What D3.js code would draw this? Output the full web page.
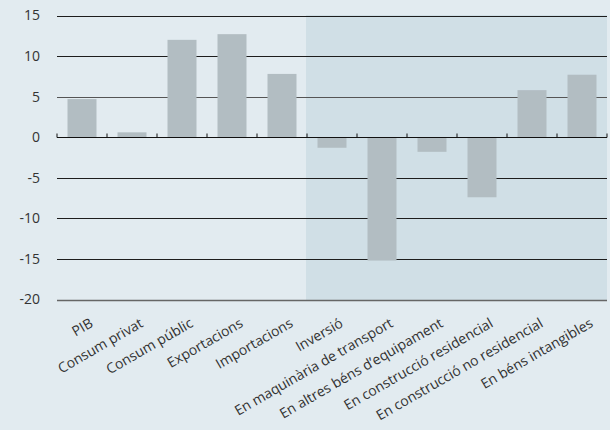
<!DOCTYPE html>
<html>
<head>
<meta charset="utf-8">
<script src="https://cdn.jsdelivr.net/npm/d3@7"></script>
<style>
  body { margin: 0; background: #e2ebf0; }
  svg { display: block; font-family: "Open Sans", sans-serif; }
</style>
</head>
<body>
<div id="chart"></div>
<script>
// Dades
const categories = ["PIB", "Consum privat", "Consum públic", "Exportacions", "Importacions",
  "Inversió", "En maquinària de transport", "En altres béns d’equipament",
  "En construcció residencial", "En construcció no residencial", "En béns intangibles"];
const values = [4.7, 0.6, 12.0, 12.7, 7.8, -1.3, -15.2, -1.8, -7.4, 5.8, 7.7];
const yTicks = [15, 10, 5, 0, -5, -10, -15, -20];
const shadedFrom = "Inversió";

const width = 610, height = 430;

const svg = d3.select("#chart").append("svg")
  .attr("width", width)
  .attr("height", height);

svg.append("rect")
  .attr("width", width).attr("height", height)
  .attr("fill", "#e2ebf0");

const x = d3.scaleBand()
  .domain(categories)
  .range([57, 607])
  .paddingInner(0.42)
  .paddingOuter(0.21);

const y = d3.scaleLinear()
  .domain([-20, 15])
  .range([299.5, 15.5]);

const step = x.step();
const x0 = 57;

// zona ombrejada
const shadeX = x(shadedFrom) - step * 0.21 - 1;
svg.append("rect")
  .attr("x", shadeX)
  .attr("y", y(15) - 0.5)
  .attr("width", 607 - shadeX)
  .attr("height", y(-20) - y(15) + 2)
  .attr("fill", "#d0dfe6");

// línies de graella
svg.append("g")
  .selectAll("line")
  .data(yTicks.filter(d => d !== 0))
  .enter().append("line")
  .attr("x1", 57).attr("x2", 607)
  .attr("y1", d => Math.round(y(d)) + 0.5)
  .attr("y2", d => Math.round(y(d)) + 0.5)
  .attr("stroke", d => d === -20 ? "#666" : (d === 5 ? "#555" : "#1d1d1d"))
  .attr("stroke-width", d => d === -20 ? 1.6 : 1);

// etiquetes eix y
svg.append("g")
  .selectAll("text")
  .data(yTicks)
  .enter().append("text")
  .attr("x", 40)
  .attr("y", d => y(d))
  .attr("dy", "0.35em")
  .attr("text-anchor", "end")
  .style("font-size", "14px")
  .style("fill", "#333")
  .text(d => d);

// barres
svg.append("g")
  .selectAll("rect")
  .data(categories)
  .enter().append("rect")
  .attr("x", d => x(d))
  .attr("width", x.bandwidth())
  .attr("y", (d, i) => y(Math.max(0, values[i])))
  .attr("height", (d, i) => Math.abs(y(values[i]) - y(0)))
  .attr("fill", "#b2bdc2");

// eix zero
const zeroY = Math.round(y(0)) + 0.5;
svg.append("line")
  .attr("x1", 57).attr("x2", 607)
  .attr("y1", zeroY).attr("y2", zeroY)
  .attr("stroke", "#111").attr("stroke-width", 1.2);

svg.append("g")
  .selectAll("line")
  .data(d3.range(categories.length + 1))
  .enter().append("line")
  .attr("x1", i => x0 + i * step)
  .attr("x2", i => x0 + i * step)
  .attr("y1", zeroY - 4).attr("y2", zeroY)
  .attr("stroke", "#111").attr("stroke-width", 1);

// etiquetes categories
svg.append("g")
  .selectAll("text")
  .data(categories)
  .enter().append("text")
  .attr("transform", d => `translate(${x(d) + x.bandwidth() / 2 + 12},326) rotate(-30)`)
  .attr("text-anchor", "end")
  .style("font-size", "14px")
  .style("fill", "#333")
  .text(d => d);
</script>
</body>
</html>
